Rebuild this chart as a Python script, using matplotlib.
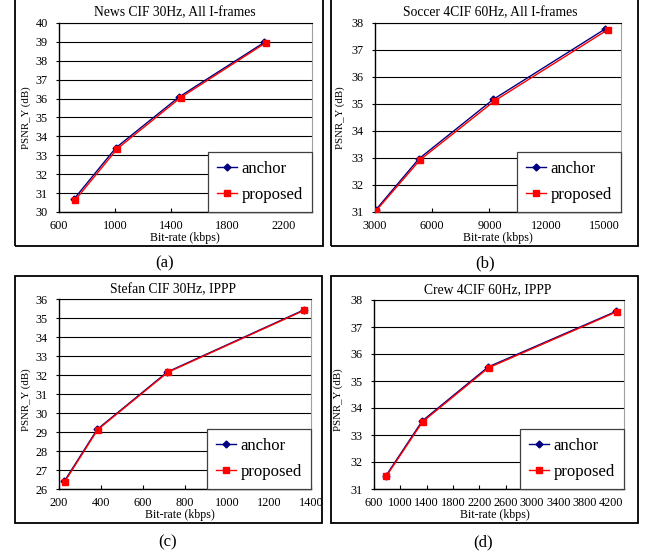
import matplotlib
matplotlib.use("Agg")
import matplotlib.pyplot as plt
from matplotlib.patches import Rectangle

plt.rcParams['font.family'] = ['Liberation Serif', 'DejaVu Serif']

W, H = 649, 555

# ---- data ----
titles = ["News CIF 30Hz, All I-frames", "Soccer 4CIF 60Hz, All I-frames",
          "Stefan CIF 30Hz, IPPP", "Crew 4CIF 60Hz, IPPP"]
panel_labels = ["(a)", "(b)", "(c)", "(d)"]

news_anchor_x = [705, 1005, 1455, 2060]
news_anchor_y = [30.67, 33.40, 36.09, 38.97]
news_prop_x = [715, 1015, 1465, 2070]
news_prop_y = [30.63, 33.35, 36.05, 38.95]

soccer_anchor_x = [3030, 5300, 9200, 15050]
soccer_anchor_y = [31.07, 32.97, 35.17, 37.77]
soccer_prop_x = [3060, 5360, 9280, 15200]
soccer_prop_y = [31.05, 32.93, 35.12, 37.75]

stefan_anchor_x = [225, 382, 716, 1365]
stefan_anchor_y = [26.40, 29.14, 32.16, 35.42]
stefan_prop_x = [227, 384, 718, 1367]
stefan_prop_y = [26.38, 29.12, 32.14, 35.40]

crew_anchor_x = [785, 1333, 2335, 4280]
crew_anchor_y = [31.50, 33.52, 35.52, 37.58]
crew_prop_x = [789, 1339, 2341, 4286]
crew_prop_y = [31.48, 33.49, 35.49, 37.56]

xticks = [[600, 1000, 1400, 1800, 2200],
          [3000, 6000, 9000, 12000, 15000],
          [200, 400, 600, 800, 1000, 1200, 1400],
          [600, 1000, 1400, 1800, 2200, 2600, 3000, 3400, 3800, 4200]]
xlims = [(600, 2400), (3000, 15900), (200, 1400), (600, 4400)]
ylims = [(30, 40), (31, 38), (26, 36), (31, 38)]

series = [
    (news_anchor_x, news_anchor_y, news_prop_x, news_prop_y),
    (soccer_anchor_x, soccer_anchor_y, soccer_prop_x, soccer_prop_y),
    (stefan_anchor_x, stefan_anchor_y, stefan_prop_x, stefan_prop_y),
    (crew_anchor_x, crew_anchor_y, crew_prop_x, crew_prop_y),
]

# ---- layout (pixels) ----
boxes = [(15, -3, 323, 246), (331, -3, 638, 246), (15, 276, 322, 523), (331, 276, 638, 523)]
plots = [(59, 23, 312, 212), (375, 23, 621, 212), (59, 299, 311, 489), (374, 300, 624, 489)]
title_pos = [(175, 13), (490, 13), (173, 290), (488, 290)]
ylabel_pos = [(26, 118), (340, 118), (26, 400), (338, 400)]
xlabel_pos = [(185, 238), (498, 238), (180, 515), (495, 515)]
plabel_pos = [(165, 263), (485, 263), (168, 542), (483, 542)]

fig = plt.figure(figsize=(W / 100, H / 100), dpi=100)

def fx(x):
    return x / W

def fy(y):
    return 1 - y / H

for i in range(4):
    x0, y0, x1, y1 = boxes[i]
    fig.patches.append(Rectangle((fx(x0), fy(y1)), fx(x1) - fx(x0), fy(y0) - fy(y1),
                                 transform=fig.transFigure, fill=False,
                                 edgecolor='black', linewidth=1.3))
    px0, py0, px1, py1 = plots[i]
    ax = fig.add_axes([fx(px0), fy(py1), fx(px1) - fx(px0), fy(py0) - fy(py1)])
    ax_x, ax_y, pr_x, pr_y = series[i]
    ax.plot(ax_x, ax_y, color='#000080', marker='D', markersize=3.5, linewidth=1.0,
            label='anchor', zorder=3)
    ax.plot(pr_x, pr_y, color='#FF0000', marker='s', markersize=5, linewidth=1.0,
            label='proposed', zorder=4)
    ax.set_xlim(*xlims[i])
    ax.set_ylim(*ylims[i])
    ax.set_xticks(xticks[i])
    ax.set_yticks(range(ylims[i][0], ylims[i][1] + 1))
    ax.tick_params(axis='both', labelsize=8.8, length=3, width=0.8)
    ax.tick_params(axis='x', direction='in', pad=6)
    ax.tick_params(axis='y', direction='out', length=2, pad=6)
    ax.grid(axis='y', color='black', linewidth=0.8)
    ax.set_axisbelow(True)
    ax.spines['top'].set_color('black')
    ax.spines['top'].set_linewidth(0.8)
    ax.spines['right'].set_color('#a0a0a0')
    ax.spines['left'].set_linewidth(1.0)
    ax.spines['bottom'].set_linewidth(1.0)
    leg = ax.legend(loc='lower right', bbox_to_anchor=(1.0, 0.0), borderaxespad=0,
                    fontsize=12, fancybox=False, framealpha=1, edgecolor='#404040',
                    handlelength=1.2, labelspacing=0.6, borderpad=0.55,
                    handletextpad=0.25)
    leg.get_frame().set_linewidth(0.9)

    tx, ty = title_pos[i]
    fig.text(fx(tx), fy(ty), titles[i], ha='center', va='center', fontsize=9.8)
    lx, ly = ylabel_pos[i]
    fig.text(fx(lx), fy(ly), 'PSNR_Y (dB)', ha='center', va='center', rotation=90, fontsize=7.8)
    bx, by = xlabel_pos[i]
    fig.text(fx(bx), fy(by), 'Bit-rate (kbps)', ha='center', va='center', fontsize=8.6)
    cx, cy = plabel_pos[i]
    fig.text(fx(cx), fy(cy), panel_labels[i], ha='center', va='center', fontsize=12)

fig.savefig('out.png', dpi=100, facecolor='white')
